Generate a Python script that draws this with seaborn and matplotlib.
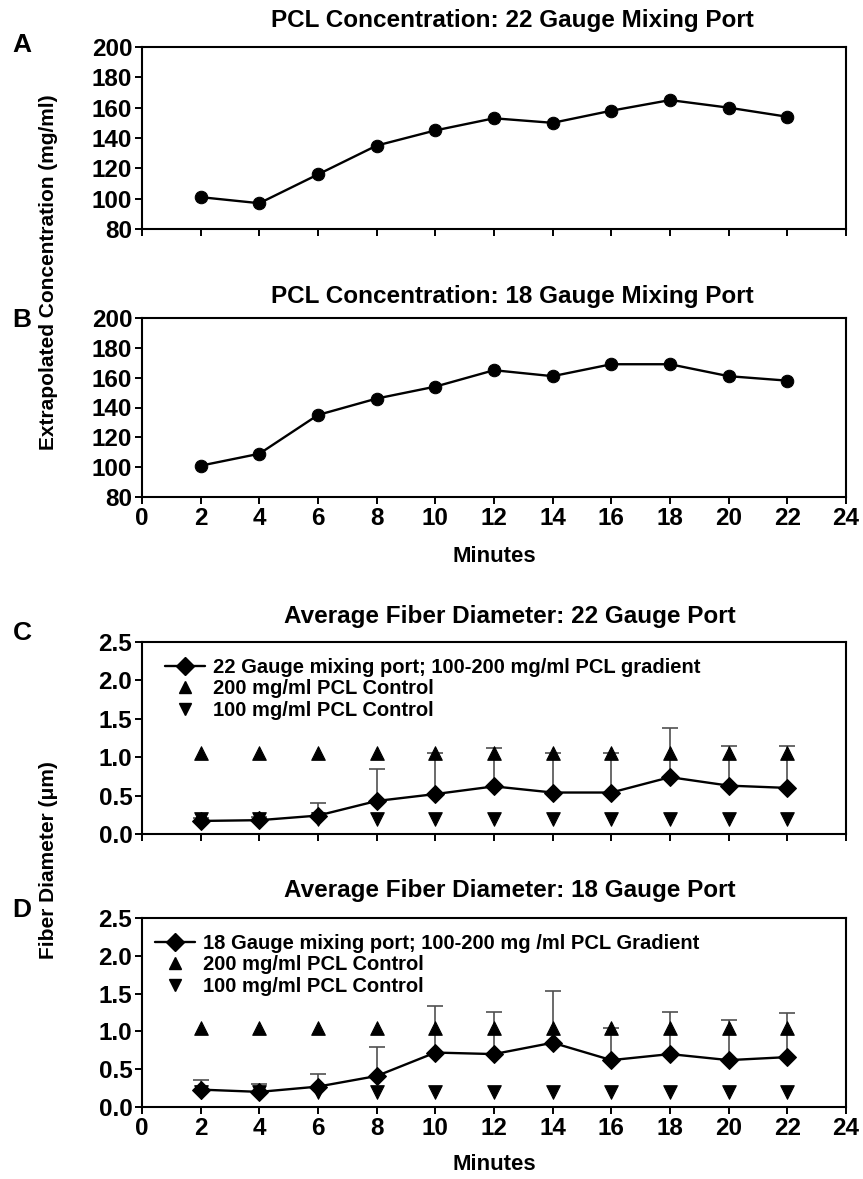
import numpy as np
import pandas as pd
import matplotlib
matplotlib.use("Agg")
import matplotlib.pyplot as plt
import seaborn as sns
from matplotlib.lines import Line2D

# ---- data -------------------------------------------------------------
minutes = [2, 4, 6, 8, 10, 12, 14, 16, 18, 20, 22]

conc_22 = [101, 97, 116, 135, 145, 153, 150, 158, 165, 160, 154]
conc_18 = [101, 109, 135, 146, 154, 165, 161, 169, 169, 161, 158]

fiber_22 = [0.17, 0.18, 0.24, 0.43, 0.52, 0.62, 0.54, 0.54, 0.74, 0.63, 0.60]
fiber_22_top = [0.21, 0.22, 0.40, 0.85, 1.06, 1.12, 1.06, 1.06, 1.38, 1.14, 1.15]

fiber_18 = [0.23, 0.20, 0.27, 0.41, 0.72, 0.70, 0.85, 0.62, 0.70, 0.62, 0.66]
fiber_18_top = [0.36, 0.30, 0.44, 0.80, 1.33, 1.26, 1.54, 1.05, 1.26, 1.15, 1.25]

control_200 = [1.05] * len(minutes)
control_100 = [0.20] * len(minutes)

titles = ["PCL Concentration: 22 Gauge Mixing Port",
          "PCL Concentration: 18 Gauge Mixing Port",
          "Average Fiber Diameter: 22 Gauge Port",
          "Average Fiber Diameter: 18 Gauge Port"]
legend_22 = ["22 Gauge mixing port; 100-200 mg/ml PCL gradient",
             "200 mg/ml PCL Control", "100 mg/ml PCL Control"]
legend_18 = ["18 Gauge mixing port; 100-200 mg /ml PCL Gradient",
             "200 mg/ml PCL Control", "100 mg/ml PCL Control"]
x_ticks = list(range(0, 25, 2))
conc_ticks = list(range(80, 201, 20))
fiber_ticks = [0.0, 0.5, 1.0, 1.5, 2.0, 2.5]

# ---- style ------------------------------------------------------------
sns.set_theme(style="ticks")
plt.rcParams["font.family"] = ["Liberation Sans", "DejaVu Sans"]
plt.rcParams["font.weight"] = "bold"
plt.rcParams["text.color"] = "black"
plt.rcParams["axes.labelcolor"] = "black"
plt.rcParams["xtick.color"] = "black"
plt.rcParams["ytick.color"] = "black"
plt.rcParams["axes.edgecolor"] = "black"
plt.rcParams["axes.linewidth"] = 1.5
plt.rcParams["xtick.major.width"] = 1.4
plt.rcParams["ytick.major.width"] = 1.4
plt.rcParams["xtick.major.size"] = 5
plt.rcParams["ytick.major.size"] = 5
plt.rcParams["xtick.direction"] = "out"
plt.rcParams["ytick.direction"] = "out"

W, H = 863, 1179
fig = plt.figure(figsize=(W / 100, H / 100), dpi=100)


def rect(top, bottom, left=142, right=846):
    return [left / W, 1 - bottom / H, (right - left) / W, (bottom - top) / H]


def ftext(x, y, s, **kw):
    fig.text(x / W, 1 - y / H, s, color="black", **kw)


axA = fig.add_axes(rect(47, 229))
axB = fig.add_axes(rect(318, 497))
axC = fig.add_axes(rect(642, 834))
axD = fig.add_axes(rect(918, 1107))

TICK_FS = 17.5

# ---- concentration panels --------------------------------------------
for ax, vals in [(axA, conc_22), (axB, conc_18)]:
    df = pd.DataFrame({"Minutes": minutes, "conc": vals})
    sns.lineplot(data=df, x="Minutes", y="conc", ax=ax, color="black",
                 lw=1.7, marker="o", markersize=9, markeredgecolor="black",
                 zorder=3)
    ax.set_ylim(80, 200)
    ax.set_yticks(conc_ticks)

# ---- fiber diameter panels -------------------------------------------
panels = [(axC, fiber_22, fiber_22_top, legend_22, 0.012),
          (axD, fiber_18, fiber_18_top, legend_18, -0.002)]
for ax, vals, tops, labels, lx in panels:
    vals_a = np.array(vals)
    upper = np.array(tops) - vals_a
    ax.errorbar(minutes, vals_a, yerr=[np.zeros_like(upper), upper],
                fmt="none", ecolor="#505050", elinewidth=1.2, capsize=5.5,
                capthick=1.2, zorder=2)
    df = pd.DataFrame({"Minutes": minutes, "d": vals,
                       "c200": control_200, "c100": control_100})
    sns.lineplot(data=df, x="Minutes", y="d", ax=ax, color="black", lw=1.7,
                 marker="D", markersize=9, markeredgecolor="black", zorder=4)
    sns.scatterplot(data=df, x="Minutes", y="c200", ax=ax, marker="^",
                    s=95, color="black", edgecolor="black", zorder=3)
    sns.scatterplot(data=df, x="Minutes", y="c100", ax=ax, marker="v",
                    s=95, color="black", edgecolor="black", zorder=3)
    ax.set_ylim(0, 2.5)
    ax.set_yticks(fiber_ticks)
    ax.set_yticklabels([f"{t:.1f}" for t in fiber_ticks])
    handles = [
        Line2D([], [], color="black", lw=1.7, marker="D", markersize=9),
        Line2D([], [], color="black", lw=0, marker="^", markersize=9),
        Line2D([], [], color="black", lw=0, marker="v", markersize=9),
    ]
    leg = ax.legend(handles, labels, loc="upper left", bbox_to_anchor=(lx, 0.99),
                    frameon=False, handlelength=2.0, handletextpad=0.4,
                    labelspacing=0.12, borderaxespad=0.3,
                    prop={"weight": "bold", "size": 14.5})
    for t in leg.get_texts():
        t.set_color("black")

# ---- shared axis formatting -------------------------------------------
for ax in [axA, axB, axC, axD]:
    ax.set_xlim(0, 24)
    ax.set_xticks(x_ticks)
    ax.set_xlabel("")
    ax.set_ylabel("")
    for sp in ax.spines.values():
        sp.set_visible(True)
        sp.set_color("black")
    ax.tick_params(axis="both", labelsize=TICK_FS, colors="black",
                   labelcolor="black", pad=2)
    for lab in ax.get_xticklabels() + ax.get_yticklabels():
        lab.set_fontweight("bold")

for ax in [axA, axC]:
    ax.tick_params(axis="x", labelbottom=False)

# ---- titles and labels ------------------------------------------------
TITLE_FS = 17.5
ftext(512, 21, titles[0], ha="center", va="center", fontsize=TITLE_FS, fontweight="bold")
ftext(512, 296, titles[1], ha="center", va="center", fontsize=TITLE_FS, fontweight="bold")
ftext(510, 616, titles[2], ha="center", va="center", fontsize=TITLE_FS, fontweight="bold")
ftext(510, 891, titles[3], ha="center", va="center", fontsize=TITLE_FS, fontweight="bold")

for letter, y in [("A", 45), ("B", 320), ("C", 633), ("D", 910)]:
    ftext(22, y, letter, ha="center", va="center", fontsize=19, fontweight="bold")

ftext(494, 556, "Minutes", ha="center", va="center", fontsize=16, fontweight="bold")
ftext(494, 1165, "Minutes", ha="center", va="center", fontsize=16, fontweight="bold")

ftext(49, 272, "Extrapolated Concentration (mg/ml)", ha="center", va="center",
      rotation=90, fontsize=15, fontweight="bold")
ftext(49, 860, "Fiber Diameter (\u03bcm)", ha="center", va="center",
      rotation=90, fontsize=15, fontweight="bold")

fig.savefig("out.png", dpi=100, facecolor="white")
